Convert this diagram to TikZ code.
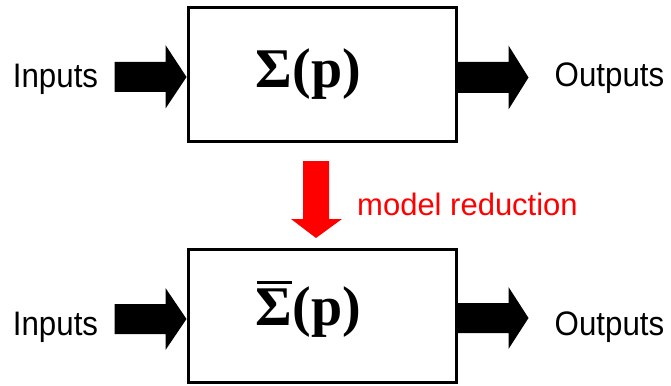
\documentclass[tikz,border=0pt]{standalone}
\usepackage{fontspec}
\setmainfont{Liberation Sans}
\newfontfamily\sysfont{Liberation Serif}
\begin{document}
\begin{tikzpicture}[x=1pt,y=-1pt,
  sysbox/.style={draw=black,line width=3pt,minimum width=268pt,minimum height=133pt,inner sep=0pt},
  lbl/.style={font=\fontsize{34}{38}\selectfont,inner sep=0pt,anchor=base},
  systxt/.style={font=\sysfont\bfseries\fontsize{56}{60}\selectfont,inner sep=0pt,anchor=base},
  redlbl/.style={font=\fontsize{31}{36}\selectfont,text=red,inner sep=0pt,anchor=base west}]
\useasboundingbox (0,0) rectangle (671,385);
% boxes
\node[sysbox] (top) at (322,74.5) {};
\node[sysbox] (bot) at (322,315.5) {};
% texts
\node[systxt] (topl) at (308.5,88) {Σ(p)};
\node[systxt] (botl) at (308.5,325) {\rlap{\kern1pt\rule[41pt]{35pt}{3pt}}Σ(p)};
\node[lbl] (in1) at (55.5,88) {\scalebox{0.92}[1]{Inputs}};
\node[lbl] (out1) at (609.5,87) {\scalebox{0.92}[1]{Outputs}};
\node[lbl] (in2) at (55.5,335) {\scalebox{0.92}[1]{Inputs}};
\node[lbl] (out2) at (609.5,335) {\scalebox{0.92}[1]{Outputs}};
\node[redlbl] (mr) at (357,215) {model reduction};
% block arrows
\coordinate (tl1) at (top.west |- 0,77);
\coordinate (tr1) at (top.east |- 0,77);
\coordinate (tl2) at (bot.west |- 0,319);
\coordinate (tr2) at (bot.east |- 0,318);
\fill[black] (tl1) -- ++(-21,-32) -- ++(0,17) -- ++(-51,0) -- ++(0,30) -- ++(51,0) -- ++(0,16.5) -- cycle;
\fill[black] (tr1) ++(0,-15) -- ++(51,0) -- ++(0,-16.5) -- ++(20,32) -- ++(-20,32) -- ++(0,-16.5) -- ++(-51,0) -- cycle;
\fill[black] (tl2) -- ++(-21,-31) -- ++(0,16) -- ++(-51,0) -- ++(0,30) -- ++(51,0) -- ++(0,16) -- cycle;
\fill[black] (tr2) ++(0,-15) -- ++(51,0) -- ++(0,-16) -- ++(20,31) -- ++(-20,31) -- ++(0,-16) -- ++(-51,0) -- cycle;
% red arrow
\coordinate (rt) at (316,161);
\fill[red] (rt) ++(-13,0) -- ++(26,0) -- ++(0,58) -- ++(13,0) -- ++(-26,19) -- ++(-25,-19) -- ++(12,0) -- cycle;
\end{tikzpicture}
\end{document}
